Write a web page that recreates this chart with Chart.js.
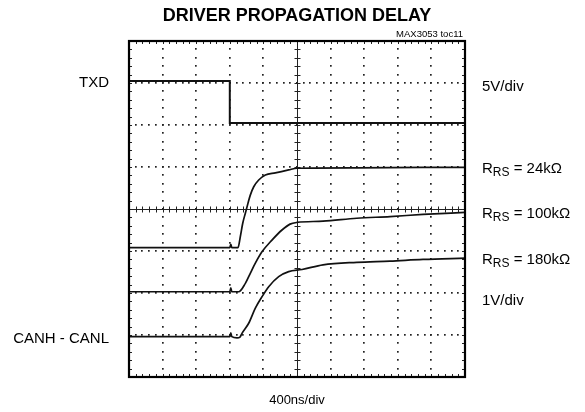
<!DOCTYPE html>
<html>
<head>
<meta charset="utf-8">
<script src="https://cdn.jsdelivr.net/npm/chart.js@4"></script>
<style>
  body{margin:0;background:#fff;}
  canvas{display:block;}
</style>
</head>
<body>
<canvas id="scope" width="585" height="412"></canvas>
<script>
// Scope traces: time in ns (400ns/div, 10 div), level in graticule divisions (0 = bottom, 8 = top)
const timeTXD = [0, 1200, 1200, 4000];
const levelTXD = [7.05, 7.05, 6.05, 6.05];

const time24k = [0, 1200, 1212, 1224, 1298, 1325, 1354, 1385, 1417, 1444, 1485, 1544, 1623, 1742, 1901, 2000, 2711, 3500, 4000];
const level24k = [3.08, 3.08, 3.16, 3.08, 3.08, 3.34, 3.66, 3.90, 4.14, 4.33, 4.53, 4.69, 4.81, 4.86, 4.93, 4.97, 4.98, 4.99, 4.99];

const time100k = [0, 1200, 1212, 1224, 1306, 1385, 1444, 1504, 1583, 1702, 1821, 1917, 2000, 2310, 2711, 3107, 3500, 4000];
const level100k = [2.03, 2.03, 2.12, 2.03, 2.03, 2.23, 2.47, 2.71, 2.98, 3.26, 3.50, 3.64, 3.68, 3.71, 3.78, 3.82, 3.87, 3.92];

const time180k = [0, 1200, 1212, 1224, 1286, 1321, 1345, 1425, 1504, 1583, 1663, 1782, 1901, 2060, 2310, 2711, 3107, 3500, 4000];
const level180k = [0.96, 0.96, 1.05, 0.96, 0.93, 0.95, 1.04, 1.28, 1.64, 1.91, 2.15, 2.39, 2.51, 2.56, 2.67, 2.73, 2.76, 2.80, 2.83];

const rsLabels = ['24kΩ', '100kΩ', '180kΩ'];

function pts(t, v){ return t.map((x, i) => ({x: x, y: v[i]})); }

// graticule: dotted grid, centre cross with ticks, border ticks
const graticule = {
  id: 'graticule',
  beforeDatasetsDraw(chart){
    const {ctx, chartArea: a, scales: {x, y}} = chart;
    ctx.save();
    ctx.fillStyle = '#222';
    for(let i=1;i<10;i++){
      if(i===5) continue;
      const px = Math.round(x.getPixelForValue(i*400));
      for(let j=1;j<40;j++){
        const py = Math.round(y.getPixelForValue(j/5));
        ctx.fillRect(px-1, py-1, 1.7, 1.7);
      }
    }
    for(let j=1;j<8;j++){
      if(j===4) continue;
      const py = Math.round(y.getPixelForValue(j));
      for(let i=1;i<50;i++){
        const px = Math.round(x.getPixelForValue(i*80));
        ctx.fillRect(px-1, py-1, 1.7, 1.7);
      }
    }
    ctx.strokeStyle = '#222';
    ctx.lineWidth = 1;
    const cx = Math.round(x.getPixelForValue(2000)) + 0.5;
    const cy = Math.round(y.getPixelForValue(4)) + 0.5;
    ctx.beginPath();
    ctx.moveTo(a.left, cy); ctx.lineTo(a.right, cy);
    ctx.moveTo(cx, a.top); ctx.lineTo(cx, a.bottom);
    for(let i=1;i<50;i++){
      const px = Math.round(x.getPixelForValue(i*80)) + 0.5;
      ctx.moveTo(px, cy-3); ctx.lineTo(px, cy+3);
      ctx.moveTo(px, a.top); ctx.lineTo(px, a.top+3);
      ctx.moveTo(px, a.bottom); ctx.lineTo(px, a.bottom-3);
    }
    for(let j=1;j<40;j++){
      const py = Math.round(y.getPixelForValue(j/5)) + 0.5;
      ctx.moveTo(cx-3, py); ctx.lineTo(cx+3, py);
      ctx.moveTo(a.left, py); ctx.lineTo(a.left+3, py);
      ctx.moveTo(a.right, py); ctx.lineTo(a.right-3, py);
    }
    ctx.stroke();
    ctx.restore();
  },
  afterDraw(chart){
    const {ctx, chartArea: a, scales: {x, y}} = chart;
    ctx.save();
    ctx.strokeStyle = '#000';
    ctx.lineWidth = 2.2;
    ctx.strokeRect(a.left, a.top, a.right-a.left, a.bottom-a.top);

    const cx = x.getPixelForValue(2000);
    ctx.fillStyle = '#000';
    ctx.textAlign = 'center';
    ctx.font = 'bold 18px "Liberation Sans", Arial, sans-serif';
    ctx.fillText('DRIVER PROPAGATION DELAY', cx, 21);
    ctx.textAlign = 'right';
    ctx.font = '9.5px "Liberation Sans", Arial, sans-serif';
    ctx.fillText('MAX3053 toc11', a.right-2, 37);
    ctx.textAlign = 'center';
    ctx.font = '13px "Liberation Sans", Arial, sans-serif';
    ctx.fillText('400ns/div', cx, 404);

    ctx.font = '15px "Liberation Sans", Arial, sans-serif';
    ctx.textAlign = 'right';
    ctx.fillText('TXD', 109, 87);
    ctx.fillText('CANH - CANL', 109, 342.5);

    ctx.textAlign = 'left';
    const lx = a.right + 17;
    ctx.fillText('5V/div', lx, 90.5);
    ctx.fillText('1V/div', lx, 305);
    const ends = [level24k[level24k.length-1], level100k[level100k.length-1], level180k[level180k.length-1]];
    ends.forEach((v, i) => {
      const by = Math.round(y.getPixelForValue(v)) + 6;
      let px = lx;
      ctx.font = '15px "Liberation Sans", Arial, sans-serif';
      ctx.fillText('R', px, by);
      px += ctx.measureText('R').width;
      ctx.font = '12px "Liberation Sans", Arial, sans-serif';
      ctx.fillText('RS', px, by+3);
      px += ctx.measureText('RS').width;
      ctx.font = '15px "Liberation Sans", Arial, sans-serif';
      ctx.fillText(' = ' + rsLabels[i], px, by);
    });
    ctx.restore();
  }
};

const trace = (data, w, mode) => ({
  data: data, borderColor: '#111', borderWidth: w, pointRadius: 0,
  fill: false, tension: 0, cubicInterpolationMode: mode
});

new Chart(document.getElementById('scope').getContext('2d'), {
  type: 'line',
  data: {
    datasets: [
      trace(pts(timeTXD, levelTXD), 2, 'default'),
      trace(pts(time24k, level24k), 1.7, 'monotone'),
      trace(pts(time100k, level100k), 1.7, 'monotone'),
      trace(pts(time180k, level180k), 1.7, 'monotone')
    ]
  },
  options: {
    responsive: false,
    animation: false,
    devicePixelRatio: 1,
    layout: {padding: {left: 129, right: 120, top: 41, bottom: 35}},
    plugins: {legend: {display: false}, tooltip: {enabled: false}},
    scales: {
      x: {type: 'linear', min: 0, max: 4000, display: false},
      y: {type: 'linear', min: 0, max: 8, display: false}
    }
  },
  plugins: [graticule]
});
</script>
</body>
</html>
